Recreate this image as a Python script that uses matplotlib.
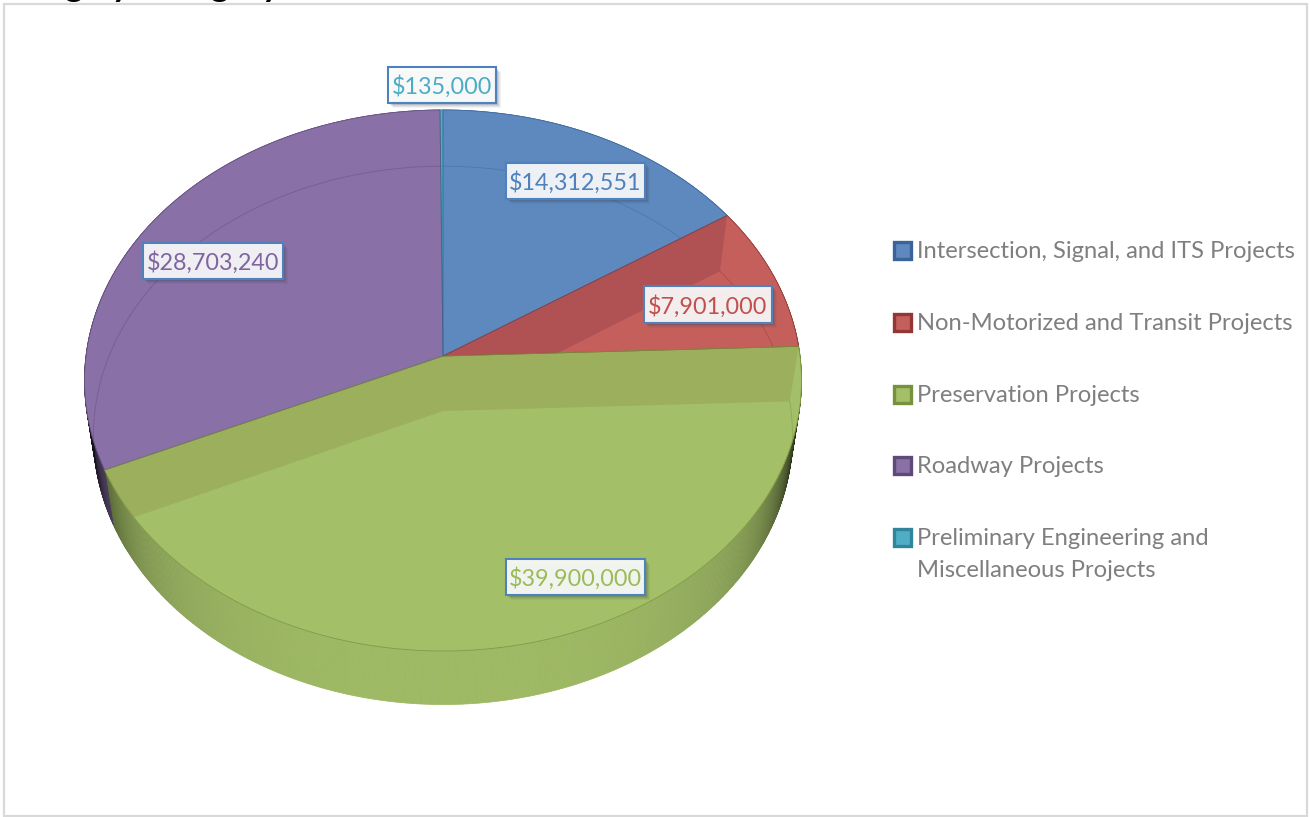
import numpy as np
import matplotlib
matplotlib.use("Agg")
import matplotlib.pyplot as plt
from matplotlib.patches import Polygon, Rectangle
from matplotlib.collections import PolyCollection
from matplotlib.colors import to_rgb

categories = ["Intersection, Signal, and ITS Projects", "Non-Motorized and Transit Projects",
              "Preservation Projects", "Roadway Projects",
              "Preliminary Engineering and\nMiscellaneous Projects"]
values = [14312551, 7901000, 39900000, 28703240, 135000]
top_colors = ["#5E89BF", "#C45F5C", "#A3BF67", "#8970A6", "#4FAEC6"]
text_colors = ["#4F81BD", "#C0504D", "#9BBB59", "#8064A2", "#4BACC6"]
edge_colors = ["#3A6397", "#943634", "#76923C", "#5F497A", "#31859B"]
label_boxes = [(506, 163, 139, 36), (644, 286, 128, 37), (506, 559, 139, 36), (143, 243, 140, 36), (388, 67, 108, 36)]
legend_y = [250, 322, 394, 465, 537]

plt.rcParams['font.family'] = ['Lato', 'DejaVu Sans']
fig = plt.figure(figsize=(13.1, 8.17), dpi=100)
ax = fig.add_axes([0, 0, 1, 1])
ax.set_xlim(0, 1310); ax.set_ylim(817, 0); ax.axis('off')

# title remnant, cut by the top of the picture
ax.text(-42, -4, "Funding by Category", fontsize=25, fontweight='bold', color='black', va='baseline', ha='left', zorder=0)
ax.add_patch(Rectangle((3.5, 3.5), 1303, 812, fc='white', ec='#D9D9D9', lw=1.6, zorder=1))

CX, CY, R, S, P = 443.0, 356.0, 357.0, 268.3, 0.0905
CY2, K = 411.0, 0.975

def top(t):
    t = np.radians(t); u, v = np.sin(t), np.cos(t)
    d = 1 + P * v
    return np.column_stack([CX + R * u / d, CY - S * v / d])

def bot(t):
    t = np.radians(t); u, v = np.sin(t), np.cos(t)
    d = 1 + P * v
    return np.column_stack([CX + K * R * u / d, CY2 - 0.995 * S * v / d])

v = np.array(values, float)
edges = np.concatenate([[0], np.cumsum(v) / v.sum() * 360])

def shade(t):
    u = np.abs(np.sin(np.radians(t)))
    return np.clip(1 - 0.72 * u ** 14 - 0.28 * u ** 3, 0.18, 1)

def sweep(i):
    return np.linspace(edges[i], edges[i + 1], max(2, int((edges[i + 1] - edges[i]) * 3)))

# side wall
for i in range(len(v)):
    ts = sweep(i)
    quads, cols = [], []
    base = np.array(to_rgb(top_colors[i]))
    for a, b in zip(ts[:-1], ts[1:]):
        quads.append(np.vstack([top(np.array([a, b])), bot(np.array([b, a]))]))
        cols.append(tuple(base * shade((a + b) / 2) * 0.97))
    ax.add_collection(PolyCollection(quads, facecolors=cols, edgecolors=cols, linewidths=0.5, zorder=2))

# top face and what shows through it
center = np.array([[CX, CY]])
center2 = np.array([[CX, CY2]])
wedges = []
for i in range(len(v)):
    wd = Polygon(np.vstack([center, top(sweep(i))]), closed=True, fc=top_colors[i], ec=top_colors[i], lw=0.5, zorder=3)
    ax.add_patch(wd)
    wedges.append(wd)

def band(t, color, clip):
    t = np.array([t])
    pg = Polygon(np.vstack([center, top(t), bot(t), center2]), closed=True, fc=color, ec='none', zorder=4)
    ax.add_patch(pg)
    pg.set_clip_path(clip.get_path(), clip.get_transform())

band(edges[1], "#B05254", wedges[1])
band(edges[2], "#9CAF5C", wedges[2])
band(edges[3], "#9CAF5C", wedges[2])

# far rim seen through the top
for i in range(len(v)):
    pts = bot(sweep(i))
    ln, = ax.plot(pts[:, 0], pts[:, 1], color=edge_colors[i], lw=0.7, alpha=0.4, zorder=5)
    ln.set_clip_path(wedges[i].get_path(), wedges[i].get_transform())

# re-stroke the boundaries, green last as in the reference
for i in (4, 3, 0, 1, 2):
    ax.add_patch(Polygon(np.vstack([center, top(sweep(i))]), closed=True, fc='none', ec=edge_colors[i],
                         lw=0.6, alpha=0.8, zorder=6))

# data labels
for val, col, (x, y, w, h) in zip(values, text_colors, label_boxes):
    for off, a in ((5, 0.06), (4, 0.08), (3, 0.10), (2, 0.14)):
        ax.add_patch(Rectangle((x + off, y + off), w, h, fc='#30404f', ec='none', alpha=a, zorder=7))
    ax.add_patch(Rectangle((x, y), w, h, fc='#FFFFFF', ec='none', alpha=0.9, zorder=8))
    ax.add_patch(Rectangle((x, y), w, h, fc='none', ec='#4F81BD', lw=1.5, zorder=9))
    ax.text(x + w / 2, y + h / 2 + 2, f"${val:,}", color=col, fontsize=16.8, ha='center', va='center', zorder=10)

# legend
for name, fc, ec, y in zip(categories, top_colors, edge_colors, legend_y):
    ax.add_patch(Rectangle((893.5, y - 8.5), 17, 17, fc=fc, ec=ec, lw=2.4, zorder=3))
    lines = name.split("\n")
    ax.text(917, y + 1.5, lines[0], color='#7F7F7F', fontsize=17.1, ha='left', va='center', zorder=3)
    if len(lines) > 1:
        ax.text(917, y + 33.5, lines[1], color='#7F7F7F', fontsize=17.1, ha='left', va='center', zorder=3)

fig.savefig("out.png", dpi=100)
